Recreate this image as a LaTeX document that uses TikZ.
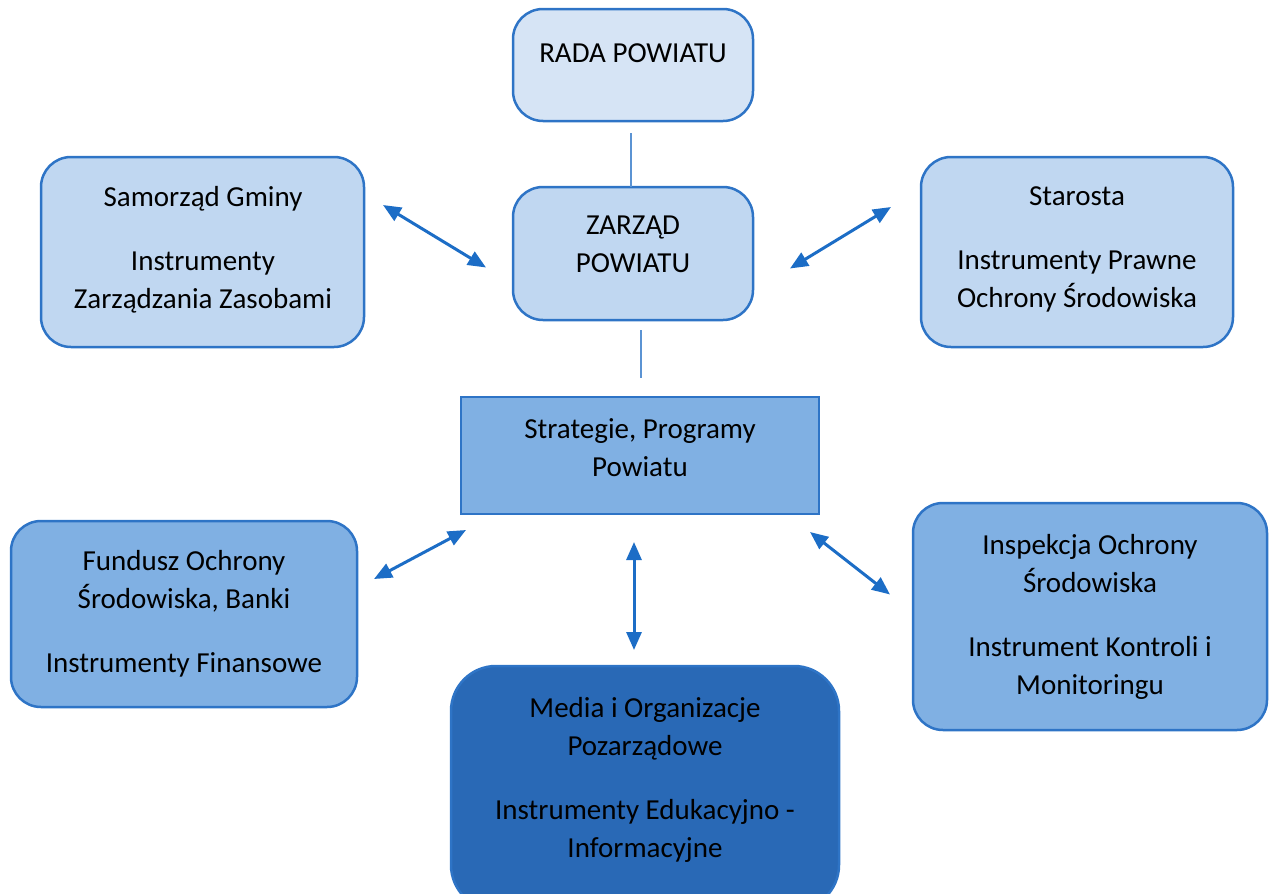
\documentclass[tikz,border=0pt]{standalone}
\usepackage{fontspec}
\setmainfont{Carlito}
\usetikzlibrary{arrows.meta, positioning}
\definecolor{edgeblue}{HTML}{2E74C6}
\definecolor{arrowblue}{HTML}{1C6DC6}
\definecolor{lineblue}{HTML}{5B93D3}
\definecolor{paleblue}{HTML}{D6E4F5}
\definecolor{lightblue}{HTML}{C0D7F1}
\definecolor{midblue}{HTML}{80B0E3}
\definecolor{deepblue}{HTML}{2969B6}

\begin{document}
\begin{tikzpicture}[x=1pt, y=-1pt,
    box/.style={draw=edgeblue, line width=2.5pt, rounded corners=30pt,
                inner sep=0pt, outer sep=0pt},
    txt/.style={align=center, inner sep=0pt,
                font=\fontsize{29}{38}\selectfont},
    link/.style={draw=lineblue, line width=1.5pt},
    biarrow/.style={{Triangle[length=18pt,width=15pt]}-{Triangle[length=18pt,width=15pt]},
                    line width=3pt, draw=arrowblue}]
  \useasboundingbox (0,0) rectangle (1269,894);

  % Boxes
  \node[box, fill=paleblue, minimum width=240pt, minimum height=112pt]
    (rada) at (633,65) {};
  \node[box, fill=lightblue, minimum width=240pt, minimum height=133pt]
    (zarzad) at (633,253.5) {};
  \node[box, fill=lightblue, minimum width=323pt, minimum height=190pt]
    (samorzad) at (202.5,252) {};
  \node[box, fill=lightblue, minimum width=312pt, minimum height=190pt]
    (starosta) at (1077,252) {};
  \node[box, fill=midblue, rounded corners=0pt, minimum width=358pt, minimum height=117pt]
    (strategie) at (640,455.5) {};
  \node[box, fill=midblue, minimum width=346pt, minimum height=186pt]
    (fundusz) at (184,614) {};
  \node[box, fill=midblue, minimum width=354pt, minimum height=227pt]
    (inspekcja) at (1090,616.5) {};
  \node[box, fill=deepblue, rounded corners=45pt, minimum width=388pt, minimum height=244pt]
    (media) at (645,788) {};

  % Texts
  \node[txt] (rada-t) at (633,53.5) {RADA POWIATU};
  \node[txt] (zarzad-t) at (633,244.5) {ZARZĄD\\POWIATU};
  \node[txt] (samorzad-t) at (203,249.5)
    {Samorząd Gminy\\[26pt]Instrumenty\\Zarządzania Zasobami};
  \node[txt] (starosta-t) at (1077,249.5)
    {Starosta\\[26pt]Instrumenty Prawne\\Ochrony Środowiska};
  \node[txt] (strategie-t) at (640,447.5) {Strategie, Programy\\Powiatu};
  \node[txt] (fundusz-t) at (184,613.5)
    {Fundusz Ochrony\\Środowiska, Banki\\[26pt]Instrumenty Finansowe};
  \node[txt] (inspekcja-t) at (1090,617)
    {Inspekcja Ochrony\\Środowiska\\[26pt]Instrument Kontroli i\\Monitoringu};
  \node[txt] (media-t) at (645,780)
    {Media i Organizacje\\Pozarządowe\\[26pt]Instrumenty Edukacyjno -\\Informacyjne};

  % Plain links
  \draw[link] ([xshift=-2pt]rada.south) ++(0,12) -- ([xshift=-2pt]zarzad.north) ++(0,-17);
  \draw[link, shorten <=10pt, shorten >=19pt]
    ([xshift=8pt]zarzad.south) -- ([xshift=1pt]strategie.north);

  % Two-way arrows
  \draw[biarrow] ([shift={(19,-47)}]samorzad.east) -- ([shift={(-27,14)}]zarzad.west);
  \draw[biarrow] ([shift={(-30,-45)}]starosta.west) -- ([shift={(37,15)}]zarzad.east);
  \draw[biarrow] ([shift={(17,-35)}]fundusz.east) -- ([shift={(5,16)}]strategie.south west);
  \draw[biarrow] ([shift={(-6,28)}]strategie.south) -- ([shift={(-11,-16)}]media.north);
  \draw[biarrow] ([shift={(-9,18)}]strategie.south east) -- ([shift={(-23,-22)}]inspekcja.west);
\end{tikzpicture}
\end{document}
